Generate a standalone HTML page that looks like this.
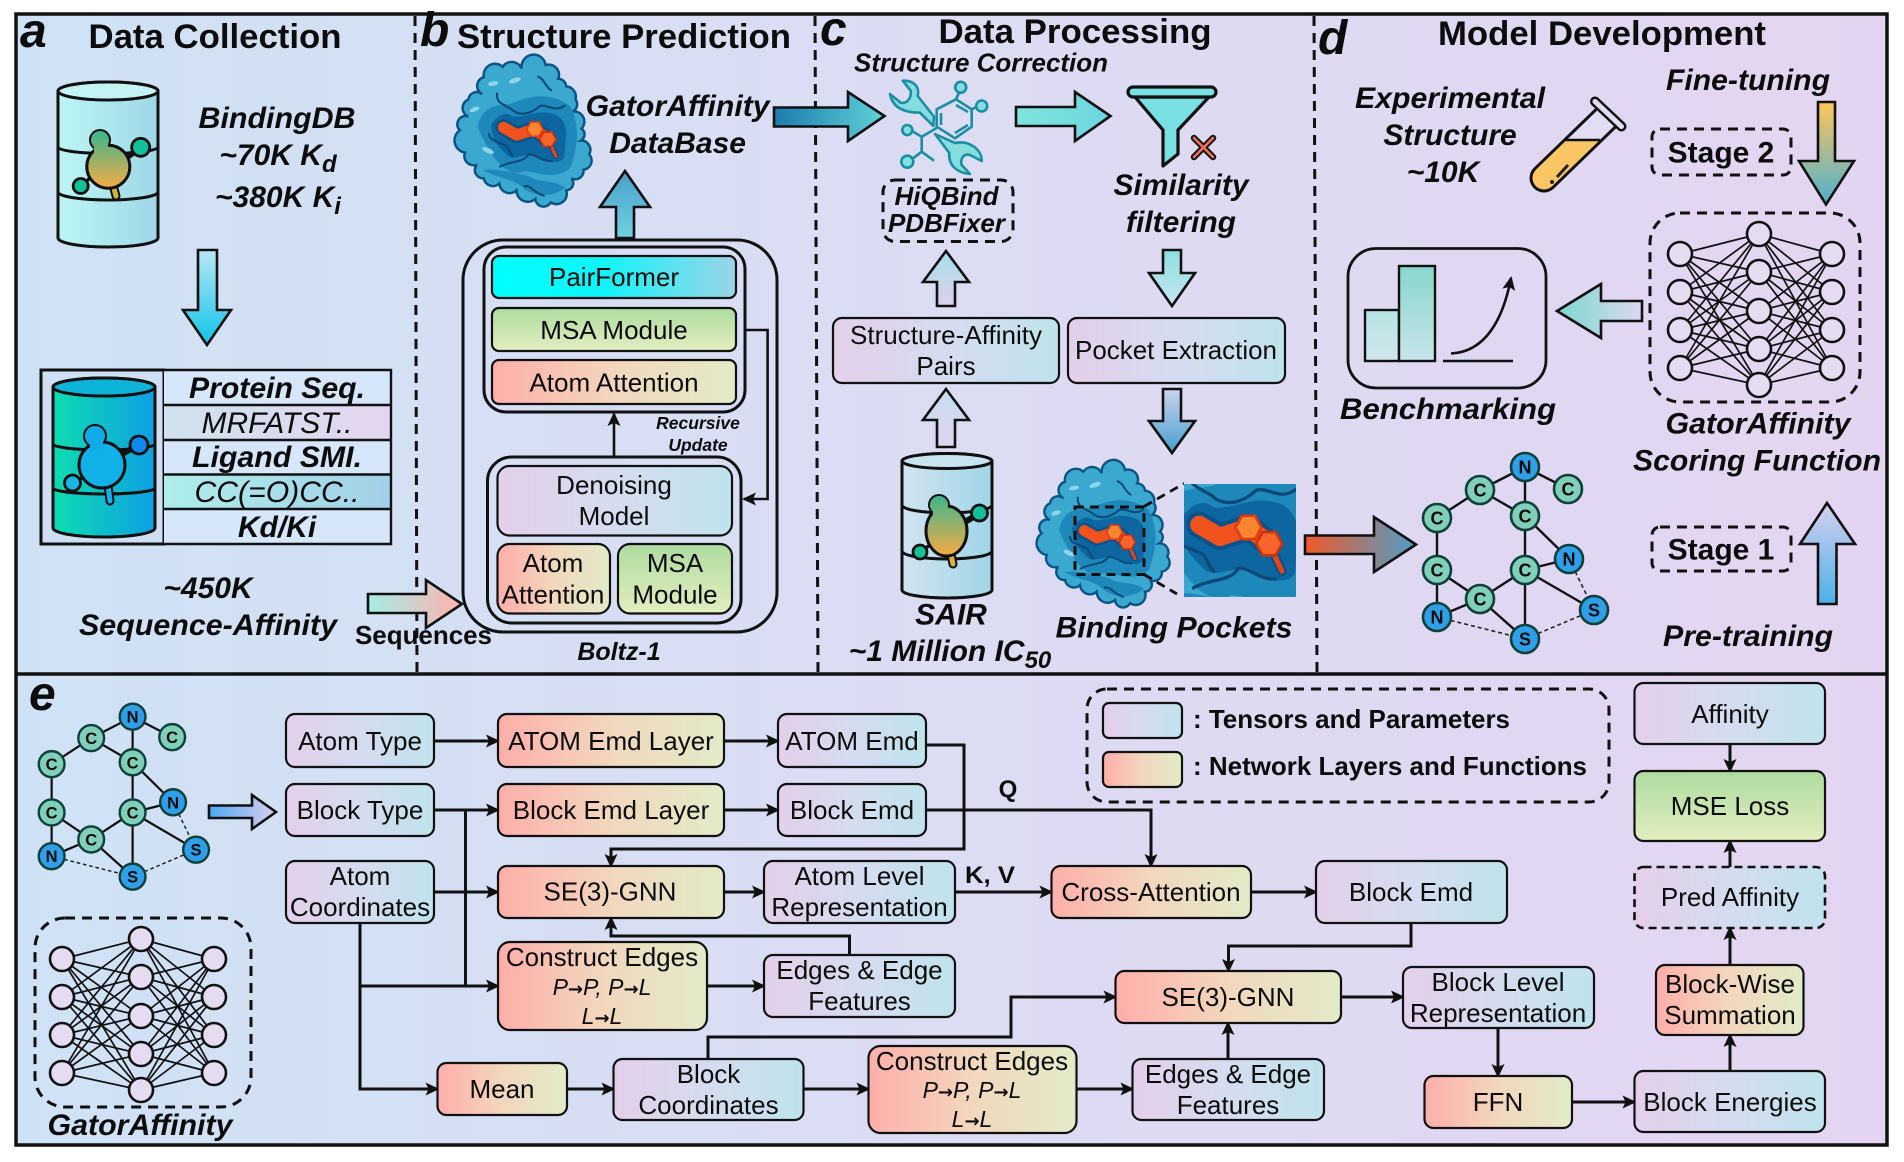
<!DOCTYPE html>
<html><head><meta charset="utf-8"><title>GatorAffinity</title>
<style>
html,body{margin:0;padding:0;background:#fff;width:1904px;height:1162px;overflow:hidden}
svg{display:block}
text{font-family:"Liberation Sans",sans-serif;fill:#0c0c0c;text-anchor:middle}
.t{font-weight:700;font-size:34.5px}
.l{font-weight:700;font-style:italic;font-size:48px;text-anchor:start}
.bi{font-weight:700;font-style:italic;font-size:30px}
.bi26{font-weight:700;font-style:italic;font-size:26px}
.r{font-size:26px}
.i{font-style:italic;font-size:23px}
.i tspan{font-family:"DejaVu Sans",sans-serif;font-style:normal;font-weight:700;font-size:18px}
.ri{font-style:italic;font-size:30px}
.b{font-weight:700;font-size:26px}
.box{stroke:#111;stroke-width:2.2}
.thick{fill:none;stroke:#111;stroke-width:3}
.arr{stroke:#111;stroke-width:2.6;stroke-linejoin:miter}
.dash{fill:none;stroke:#111;stroke-width:3;stroke-dasharray:10 7}
.cn{stroke:#111;stroke-width:2.6}
.gt{font-weight:700;font-size:18px}
.nn line{stroke:#111;stroke-width:1.7}
.nn ellipse{fill:#e5dcf2;stroke:#111;stroke-width:2.6}
.tl{fill:none;stroke:#1a8ea3;stroke-width:2.6}
.tf{fill:#85dde0;stroke:#1a8ea3;stroke-width:2.6;stroke-linejoin:round}
</style></head><body>
<svg xmlns="http://www.w3.org/2000/svg" width="1904" height="1162" viewBox="0 0 1904 1162">
<defs>
<linearGradient id="bg"><stop offset="0" stop-color="#cfe2f5"/><stop offset=".5" stop-color="#dcdcf3"/><stop offset="1" stop-color="#e3d5f1"/></linearGradient>
<linearGradient id="T"><stop offset="0" stop-color="#e4cfea"/><stop offset=".5" stop-color="#d5dcef"/><stop offset="1" stop-color="#bfe3ec"/></linearGradient>
<linearGradient id="N"><stop offset="0" stop-color="#ffaeaa"/><stop offset=".5" stop-color="#f2d7bd"/><stop offset="1" stop-color="#e2ebc8"/></linearGradient>
<linearGradient id="G" x2="0" y2="1"><stop offset="0" stop-color="#aedba0"/><stop offset="1" stop-color="#e2eec0"/></linearGradient>
<linearGradient id="PF"><stop offset="0" stop-color="#00ffff"/><stop offset=".45" stop-color="#10f4fa"/><stop offset="1" stop-color="#9cd4e6"/></linearGradient>
<linearGradient id="cy1"><stop offset="0" stop-color="#bdf6f6"/><stop offset="1" stop-color="#9ed6e6"/></linearGradient>
<linearGradient id="cy2"><stop offset="0" stop-color="#0edcb0"/><stop offset="1" stop-color="#0e9fe4"/></linearGradient>
<linearGradient id="cy3"><stop offset="0" stop-color="#d2e4f0"/><stop offset="1" stop-color="#9fd5e8"/></linearGradient>
<linearGradient id="mol1" gradientUnits="userSpaceOnUse" x1="0" y1="132" x2="0" y2="188"><stop offset="0" stop-color="#3eb58e"/><stop offset="1" stop-color="#f6ab44"/></linearGradient>
<linearGradient id="mol3" gradientUnits="userSpaceOnUse" x1="0" y1="496" x2="0" y2="556"><stop offset="0" stop-color="#3eb58e"/><stop offset="1" stop-color="#f6ab44"/></linearGradient>
<linearGradient id="rowM"><stop offset="0" stop-color="#cfe2ee"/><stop offset="1" stop-color="#e4d6f0"/></linearGradient>
<linearGradient id="rowC"><stop offset="0" stop-color="#aeeeea"/><stop offset="1" stop-color="#a2cfe8"/></linearGradient>
<linearGradient id="a1" x2="0" y2="1"><stop offset="0" stop-color="#b9e6f5"/><stop offset="1" stop-color="#10c4e8"/></linearGradient>
<linearGradient id="a2"><stop offset="0" stop-color="#a6ece6"/><stop offset="1" stop-color="#ffb2ae"/></linearGradient>
<linearGradient id="a3" x2="0" y2="1"><stop offset="0" stop-color="#4a9ec8"/><stop offset="1" stop-color="#6fd2e0"/></linearGradient>
<linearGradient id="a4"><stop offset="0" stop-color="#1c7cae"/><stop offset="1" stop-color="#60d2d8"/></linearGradient>
<linearGradient id="a5"><stop offset="0" stop-color="#80e4dc"/><stop offset="1" stop-color="#6cd6e0"/></linearGradient>
<linearGradient id="a6" x2="0" y2="1"><stop offset="0" stop-color="#a2dfe8"/><stop offset="1" stop-color="#e0d0ec"/></linearGradient>
<linearGradient id="a7" x2="0" y2="1"><stop offset="0" stop-color="#c4dfee"/><stop offset="1" stop-color="#e0d4ef"/></linearGradient>
<linearGradient id="a8" x2="0" y2="1"><stop offset="0" stop-color="#8ce0e0"/><stop offset="1" stop-color="#c8e4f0"/></linearGradient>
<linearGradient id="a9" x2="0" y2="1"><stop offset="0" stop-color="#ccd4ec"/><stop offset="1" stop-color="#469ed0"/></linearGradient>
<linearGradient id="a10"><stop offset="0" stop-color="#f2582a"/><stop offset="1" stop-color="#4c9ec8"/></linearGradient>
<linearGradient id="a11" x2="0" y2="1"><stop offset="0" stop-color="#ffc65c"/><stop offset="1" stop-color="#4cb0d0"/></linearGradient>
<linearGradient id="a12" x2="0" y2="1"><stop offset="0" stop-color="#d6d0ee"/><stop offset="1" stop-color="#4cb0e8"/></linearGradient>
<linearGradient id="a13"><stop offset="0" stop-color="#7cd8d0"/><stop offset="1" stop-color="#dcd8f0"/></linearGradient>
<linearGradient id="a14"><stop offset="0" stop-color="#48a8f0"/><stop offset="1" stop-color="#dcd0ef"/></linearGradient>
<linearGradient id="bar" x2="0" y2="1"><stop offset="0" stop-color="#88d6cc"/><stop offset="1" stop-color="#c8e4ea"/></linearGradient>
<linearGradient id="bar1" x2="0" y2="1"><stop offset="0" stop-color="#b8e4e2"/><stop offset="1" stop-color="#cfe6ec"/></linearGradient>
<marker id="h" markerUnits="userSpaceOnUse" markerWidth="16" markerHeight="14" refX="12" refY="7" orient="auto"><path d="M0,0.5 L14,7 L0,13.5 L3,7Z" fill="#111"/></marker>
<clipPath id="cl"><rect x="1184" y="484" width="112" height="113"/></clipPath>
<clipPath id="tubeclip"><rect x="1500" y="140" width="150" height="80"/></clipPath>
<g id="prot">
<path d="M-20.7,-63.3 A10.5,10.5 0 0 1 -2.3,-61.7 A11,11 0 0 1 21,-65 A10,10 0 0 1 33.3,-51.7 A8,8 0 0 1 41,-44.3 A10,10 0 0 1 50,-31.7 A8,8 0 0 1 47.7,-20 A10,10 0 0 1 56,-3.3 A7,7 0 0 1 55.3,8.3 A9,9 0 0 1 63.3,21.7 A9,9 0 0 1 57.7,36.7 A8,8 0 0 1 46,45 A7,7 0 0 1 41,56.7 A10,10 0 0 1 26,68.3 A8,8 0 0 1 11,65 A11,11 0 0 1 -7.3,56.7 A10,10 0 0 1 -24,50 A9,9 0 0 1 -39,45 A8,8 0 0 1 -45.7,31.7 A9,9 0 0 1 -57.3,20 A12,12 0 0 1 -62.3,-1.7 A8,8 0 0 1 -54,-15 A9,9 0 0 1 -54,-31.7 A8,8 0 0 1 -40.7,-36.7 A9,9 0 0 1 -39,-53.3 A11,11 0 0 1 -20.7,-63.3Z" fill="#3aa8cf" stroke="#0b5485" stroke-width="2.4"/>
<path d="M-45,-5 C-40,-28 -25,-25 -11,-28 C5,-35 25,-40 45,-25 C55,-5 52,15 45,35 C30,48 10,38 0,38 C-15,45 -30,30 -45,-5Z" fill="#1e88ba"/>
<path d="M-40,37 C-25,45 -10,45 0,55 C10,62 25,65 40,54 C30,46 15,50 5,43 C-10,40 -25,35 -40,37Z" fill="#1e88ba"/>
<path d="M-32,-7 C-24,-18 -17,-20 -11,-15 C-1,-13 13,-22 26,-18 C36,-17 41,-8 41,2 L39,25 C33,33 19,28 13,23 C0,20 -9,28 -16,23 C-21,17 -31,12 -32,-7Z" fill="#0d66a0"/>
<path d="M-26,-38 C-28,-28 -18,-26 -12,-22 C-6,-16 5,-16 15,-25 C22,-28 30,-18 40,-26 M13,-54 C20,-52 20,-44 27,-40 M-34,1 C-34,9 -26,9 -18,13 C-14,16 -14,22 -10,24 M-24,34 C-14,28 0,30 4,22 C10,20 18,30 28,28 M0,53 C6,50 10,60 20,62" fill="none" stroke="#0a4a78" stroke-width="2"/>
<g fill="#8fd4e8"><ellipse cx="-9" cy="-50" rx="6" ry="2.4" transform="rotate(-18 -9 -50)"/><ellipse cx="-35" cy="18" rx="6" ry="2.4" transform="rotate(25 -35 18)"/><ellipse cx="-48" cy="-22" rx="5" ry="2.2" transform="rotate(-20 -48 -22)"/><ellipse cx="-30" cy="-47" rx="5" ry="2.2" transform="rotate(-10 -30 -47)"/></g>
<polyline points="-19.7,-4.4 -7,2.9 10.5,-2.8 23.2,7" fill="none" stroke="#0b5289" stroke-width="16" stroke-linejoin="round" stroke-linecap="round"/>
<polyline points="23.2,7 31,23.5" fill="none" stroke="#0b5289" stroke-width="6" stroke-linecap="round"/>
<polyline points="-19.7,-4.4 -7,2.9 10.5,-2.8 23.2,7" fill="none" stroke="#f2521d" stroke-width="11" stroke-linejoin="round" stroke-linecap="round"/>
<polyline points="23.2,7 31,23.5" fill="none" stroke="#ea4418" stroke-width="3" stroke-linecap="round"/>
<polygon points="18.5,-2.8 14.5,-9.8 6.5,-9.8 2.5,-2.8 6.5,4.2 14.5,4.2" fill="#f98530" stroke="#e43a12" stroke-width="1.6"/>
<polygon points="31.2,7 27.2,14 19.2,14 15.2,7 19.2,0 27.2,0" fill="#f9642a" stroke="#c83410" stroke-width="1.6"/>
</g>
<g id="nn" class="nn">
<line x1="0" y1="20" x2="79" y2="0"/><line x1="0" y1="20" x2="79" y2="38"/><line x1="0" y1="20" x2="79" y2="77"/><line x1="0" y1="20" x2="79" y2="115"/><line x1="0" y1="20" x2="79" y2="151"/>
<line x1="0" y1="58" x2="79" y2="0"/><line x1="0" y1="58" x2="79" y2="38"/><line x1="0" y1="58" x2="79" y2="77"/><line x1="0" y1="58" x2="79" y2="115"/><line x1="0" y1="58" x2="79" y2="151"/>
<line x1="0" y1="96" x2="79" y2="0"/><line x1="0" y1="96" x2="79" y2="38"/><line x1="0" y1="96" x2="79" y2="77"/><line x1="0" y1="96" x2="79" y2="115"/><line x1="0" y1="96" x2="79" y2="151"/>
<line x1="0" y1="134" x2="79" y2="0"/><line x1="0" y1="134" x2="79" y2="38"/><line x1="0" y1="134" x2="79" y2="77"/><line x1="0" y1="134" x2="79" y2="115"/><line x1="0" y1="134" x2="79" y2="151"/>
<line x1="152" y1="20" x2="79" y2="0"/><line x1="152" y1="20" x2="79" y2="38"/><line x1="152" y1="20" x2="79" y2="77"/><line x1="152" y1="20" x2="79" y2="115"/><line x1="152" y1="20" x2="79" y2="151"/>
<line x1="152" y1="58" x2="79" y2="0"/><line x1="152" y1="58" x2="79" y2="38"/><line x1="152" y1="58" x2="79" y2="77"/><line x1="152" y1="58" x2="79" y2="115"/><line x1="152" y1="58" x2="79" y2="151"/>
<line x1="152" y1="96" x2="79" y2="0"/><line x1="152" y1="96" x2="79" y2="38"/><line x1="152" y1="96" x2="79" y2="77"/><line x1="152" y1="96" x2="79" y2="115"/><line x1="152" y1="96" x2="79" y2="151"/>
<line x1="152" y1="134" x2="79" y2="0"/><line x1="152" y1="134" x2="79" y2="38"/><line x1="152" y1="134" x2="79" y2="77"/><line x1="152" y1="134" x2="79" y2="115"/><line x1="152" y1="134" x2="79" y2="151"/>
<ellipse cx="0" cy="20" rx="12" ry="12"/><ellipse cx="0" cy="58" rx="12" ry="12"/><ellipse cx="0" cy="96" rx="12" ry="12"/><ellipse cx="0" cy="134" rx="12" ry="12"/>
<ellipse cx="79" cy="0" rx="12" ry="12"/><ellipse cx="79" cy="38" rx="12" ry="12"/><ellipse cx="79" cy="77" rx="12" ry="12"/><ellipse cx="79" cy="115" rx="12" ry="12"/><ellipse cx="79" cy="151" rx="12" ry="12"/>
<ellipse cx="152" cy="20" rx="12" ry="12"/><ellipse cx="152" cy="58" rx="12" ry="12"/><ellipse cx="152" cy="96" rx="12" ry="12"/><ellipse cx="152" cy="134" rx="12" ry="12"/>
</g>
<g id="gedges">
<g stroke="#111" stroke-width="2.4">
<line x1="0" y1="0" x2="-45" y2="23"/><line x1="0" y1="0" x2="43" y2="22"/><line x1="0" y1="0" x2="0" y2="49"/>
<line x1="-45" y1="23" x2="0" y2="49"/><line x1="-45" y1="23" x2="-88" y2="51"/><line x1="-88" y1="51" x2="-88" y2="103"/>
<line x1="0" y1="49" x2="0" y2="103"/><line x1="0" y1="49" x2="44" y2="92"/><line x1="0" y1="103" x2="44" y2="92"/>
<line x1="0" y1="103" x2="-45" y2="132"/><line x1="-88" y1="103" x2="-88" y2="150"/><line x1="-88" y1="150" x2="-45" y2="132"/><line x1="-88" y1="103" x2="-45" y2="132"/>
<line x1="0" y1="103" x2="0" y2="172"/><line x1="-45" y1="132" x2="0" y2="172"/><line x1="0" y1="103" x2="69" y2="143"/>
</g>
<g stroke="#222" stroke-width="1.6" stroke-dasharray="4 3">
<line x1="44" y1="92" x2="69" y2="143"/><line x1="-88" y1="150" x2="0" y2="172"/><line x1="0" y1="172" x2="69" y2="143"/>
</g>
</g>
</defs>

<rect x="16" y="14" width="1871" height="1131" fill="url(#bg)" stroke="#111" stroke-width="3.5"/>
<line x1="16" y1="674" x2="1887" y2="674" stroke="#111" stroke-width="3.5"/>
<path class="dash" d="M415,16 L417,672 M815,16 L818,672 M1314,16 L1317,672" stroke-width="2.6"/>

<!-- headers -->
<text class="l" x="20" y="47">a</text>
<text class="t" x="215" y="48" textLength="253" lengthAdjust="spacingAndGlyphs">Data Collection</text>
<text class="l" x="420" y="46">b</text>
<text class="t" x="624" y="48" textLength="334" lengthAdjust="spacingAndGlyphs">Structure Prediction</text>
<text class="l" x="820" y="45">c</text>
<text class="t" x="1075" y="43" textLength="273" lengthAdjust="spacingAndGlyphs">Data Processing</text>
<text class="l" x="1318" y="54">d</text>
<text class="t" x="1602" y="45" textLength="328" lengthAdjust="spacingAndGlyphs">Model Development</text>
<text class="l" x="29" y="710">e</text>

<!-- panel a -->
<path d="M58,91 L58,238 A50,9 0 0 0 158,238 L158,91 A50,9 0 0 0 58,91Z" fill="url(#cy1)" stroke="#111" stroke-width="3"/>
<ellipse cx="108" cy="91" rx="50" ry="9" fill="#c4f3f4" stroke="#111" stroke-width="3"/>
<path d="M58,147 A50,6.5 0 0 0 158,147 M58,192 A50,8 0 0 0 158,192" fill="none" stroke="#111" stroke-width="3"/>
<path d="M122,161 L141,147" stroke="#111" stroke-width="6"/>
<path d="M90,178 L81,186" stroke="#111" stroke-width="3.5"/>
<path d="M113,185 L116,196" stroke="#111" stroke-width="9" stroke-linecap="round"/>
<path d="M113,185 L116,196" stroke="#d6b040" stroke-width="5" stroke-linecap="round"/>
<circle cx="100" cy="140" r="9.5" fill="#3eb58e" stroke="#111" stroke-width="3"/>
<circle cx="108.3" cy="166.7" r="21.5" fill="url(#mol1)" stroke="#111" stroke-width="3"/>
<circle cx="100" cy="140" r="9" fill="url(#mol1)"/>
<rect x="94" y="142" width="14" height="12" fill="url(#mol1)"/>
<circle cx="140.7" cy="147.3" r="9" fill="#12c09a" stroke="#111" stroke-width="2.8"/>
<circle cx="80.7" cy="186" r="7.5" fill="#12c09a" stroke="#111" stroke-width="2.8"/>

<text class="bi" x="277" y="128" textLength="157" lengthAdjust="spacingAndGlyphs">BindingDB</text>
<text class="bi" x="278" y="165">~70K K<tspan dy="7" font-size="24">d</tspan></text>
<text class="bi" x="278" y="207">~380K K<tspan dy="7" font-size="24">i</tspan></text>

<polygon class="arr" points="198,250 217,250 217,310 231,310 207,345 183,310 198,310" fill="url(#a1)"/>

<rect x="41" y="370" width="123" height="174" fill="#cfe0f4" stroke="#111" stroke-width="3"/>
<rect x="164" y="370" width="227" height="35" fill="#d6e6fb"/>
<rect x="164" y="405" width="227" height="35" fill="url(#rowM)"/>
<rect x="164" y="440" width="227" height="34.5" fill="#d6e6fb"/>
<rect x="164" y="474.5" width="227" height="34.5" fill="url(#rowC)"/>
<rect x="164" y="509" width="227" height="35" fill="#d6e6fb"/>
<path d="M164,370 H391 V544 H164 M164,405 H391 M164,440 H391 M164,474.5 H391 M164,509 H391" fill="none" stroke="#111" stroke-width="2.4"/>
<text class="bi" x="277" y="398" textLength="176" lengthAdjust="spacingAndGlyphs">Protein Seq.</text>
<text class="ri" x="277" y="433" textLength="151" lengthAdjust="spacingAndGlyphs">MRFATST..</text>
<text class="bi" x="277" y="467" textLength="170" lengthAdjust="spacingAndGlyphs">Ligand SMI.</text>
<text class="ri" x="277" y="502" textLength="165" lengthAdjust="spacingAndGlyphs">CC(=O)CC..</text>
<text class="bi" x="277" y="537">Kd/Ki</text>

<path d="M53,387 L53,528 A51,9 0 0 0 155,528 L155,387 A51,9 0 0 0 53,387Z" fill="url(#cy2)" stroke="#111" stroke-width="3"/>
<ellipse cx="104" cy="387" rx="51" ry="9" fill="#0bb4d8" stroke="#111" stroke-width="3"/>
<path d="M53,444 A51,6 0 0 0 155,444 M53,488 A51,6 0 0 0 155,488" fill="none" stroke="#111" stroke-width="3"/>
<path d="M118,456 L139,445" stroke="#111" stroke-width="6"/>
<path d="M85,476 L73,483" stroke="#111" stroke-width="3.5"/>
<path d="M108,485 L110,501" stroke="#111" stroke-width="9" stroke-linecap="round"/>
<path d="M108,485 L110,501" stroke="#14b0e8" stroke-width="5" stroke-linecap="round"/>
<circle cx="95" cy="436" r="10.5" fill="#10a8ea" stroke="#111" stroke-width="3"/>
<circle cx="102" cy="465" r="23" fill="#10b0e8" stroke="#111" stroke-width="3"/>
<circle cx="95" cy="436" r="10" fill="#10acea"/>
<rect x="90" y="438" width="13" height="12" fill="#10acea"/>
<circle cx="139" cy="445" r="9" fill="#0f88ee" stroke="#111" stroke-width="2.8"/>
<circle cx="72.5" cy="483" r="8" fill="#18b4e4" stroke="#111" stroke-width="2.8"/>

<text class="bi" x="208" y="598">~450K</text>
<text class="bi" x="208" y="635" textLength="258" lengthAdjust="spacingAndGlyphs">Sequence-Affinity</text>
<polygon class="arr" points="368,594 426,594 426,580 462,604 426,628 426,613 368,613" fill="url(#a2)"/>
<text x="423.5" y="644" font-size="26" font-weight="700" textLength="137" lengthAdjust="spacingAndGlyphs">Sequences</text>

<!-- panel b -->
<use href="#prot" transform="translate(524,132) scale(1.03,1.03)"/>
<text class="bi" x="677.6" y="116" textLength="184" lengthAdjust="spacingAndGlyphs">GatorAffinity</text>
<text class="bi" x="677.6" y="153">DataBase</text>
<polygon class="arr" points="616,238 616,207 600,207 625,171 650,207 634,207 634,238" fill="url(#a3)"/>
<rect x="463" y="240" width="314" height="392" rx="40" fill="none" stroke="#111" stroke-width="3"/>
<rect x="484" y="247" width="261" height="165" rx="22" fill="none" stroke="#111" stroke-width="3"/>
<rect class="box" x="492" y="256" width="244" height="42" rx="7" fill="url(#PF)"/>
<rect class="box" x="492" y="308" width="244" height="43" rx="7" fill="url(#G)"/>
<rect class="box" x="492" y="360" width="244" height="44" rx="7" fill="url(#N)"/>
<text class="r" x="614" y="286">PairFormer</text>
<text class="r" x="614" y="339">MSA Module</text>
<text class="r" x="614" y="391.5">Atom Attention</text>
<path d="M745,330 H767.6 V499 H744" fill="none" class="cn" marker-end="url(#h)"/>
<path d="M614,456 V414" fill="none" class="cn" marker-end="url(#h)"/>
<text x="698" y="429" font-size="17.5" font-weight="700" font-style="italic">Recursive</text>
<text x="698" y="451" font-size="17.5" font-weight="700" font-style="italic">Update</text>
<rect x="487.5" y="457" width="253.5" height="166" rx="24" fill="none" stroke="#111" stroke-width="3"/>
<rect class="box" x="497.5" y="466" width="234.5" height="69.5" rx="12" fill="url(#T)"/>
<text class="r" x="614" y="494">Denoising</text><text class="r" x="614" y="525">Model</text>
<rect class="box" x="497.5" y="544" width="112.5" height="69.5" rx="12" fill="url(#N)"/>
<text class="r" x="553" y="572">Atom</text><text class="r" x="553" y="603.5">Attention</text>
<rect class="box" x="618" y="544" width="114" height="69.5" rx="12" fill="url(#G)"/>
<text class="r" x="675" y="572">MSA</text><text class="r" x="675" y="603.5">Module</text>
<text x="619" y="660" font-size="25" font-weight="700" font-style="italic">Boltz-1</text>

<!-- panel c -->
<text class="bi26" x="981" y="71.5" textLength="254" lengthAdjust="spacingAndGlyphs">Structure Correction</text>
<polygon class="arr" points="774,107.5 848,107.5 848,92 884.5,116 848,141 848,126.5 774,126.5" fill="url(#a4)"/>
<!-- tools icon -->
<path class="tf" d="M902.7,80.7 C912.7,80 920,86 917.7,96 L934,116.7 L933.3,126 L920,112.7 C906.7,112.7 892.7,109.3 890,94 L900.7,102.7 C906.7,104 911.7,98.3 910.7,90.7Z"/>
<path class="tf" d="M935,134 L955,143 C970,140 982,150 981.7,161 L970,155 C963,153 960,160 961.7,165 L970,174 C957,173 948,165 949.3,153Z"/>
<polygon class="tl" points="936.7,109.3 956,99.3 971.7,109.3 971.7,126.7 955,138.3 936.7,126.7" style="fill:#dcdcf3"/>
<path class="tl" d="M956,105 L968,112 M968,125 L955,133 M941,113 V125 M956,99 L959.5,92 M971.7,109.3 L977,106.7 M936.7,128 L921.7,136.7 L912,131 M921.7,136.7 V151.7 L911.7,159.3 M921.7,151.7 L934,160.7"/>
<circle class="tf" cx="960.7" cy="87.3" r="5.5"/><circle class="tf" cx="981.7" cy="106" r="5.5"/><circle class="tf" cx="907.3" cy="130" r="5"/><circle class="tf" cx="907.3" cy="161.7" r="6"/>
<polygon class="arr" points="1016,107 1075,107 1075,92 1110.5,116 1075,141 1075,126 1016,126" fill="url(#a5)"/>
<!-- funnel -->
<path d="M1135,97 L1209,97 L1178,130 L1178,154 L1163,166 L1163,130Z" fill="#78dfe3" stroke="#111" stroke-width="3.2" stroke-linejoin="round"/>
<rect x="1128" y="87" width="88" height="10" rx="5" fill="#78dfe3" stroke="#111" stroke-width="3.2"/>
<path d="M1194,138 L1213,157 M1213,138 L1194,157" stroke="#111" stroke-width="6.5" stroke-linecap="round"/>
<path d="M1194,138 L1213,157 M1213,138 L1194,157" stroke="#f0705a" stroke-width="2.6" stroke-linecap="round"/>
<text class="bi" x="1181" y="195" textLength="135" lengthAdjust="spacingAndGlyphs">Similarity</text>
<text class="bi" x="1181" y="232" textLength="110" lengthAdjust="spacingAndGlyphs">filtering</text>
<rect class="dash" x="883" y="180" width="130" height="61.5" rx="12" stroke-width="2.6"/>
<text class="bi26" x="946.5" y="205">HiQBind</text><text class="bi26" x="946.5" y="232">PDBFixer</text>
<polygon class="arr" points="937,306 937,282 923,282 946,251 969,282 955,282 955,306" fill="url(#a6)"/>
<rect class="box" x="833" y="318" width="226" height="65" rx="9" fill="url(#T)"/>
<text class="r" x="946" y="344" textLength="192" lengthAdjust="spacingAndGlyphs">Structure-Affinity</text><text class="r" x="946" y="375">Pairs</text>
<rect class="box" x="1068" y="318" width="217" height="65" rx="9" fill="url(#T)"/>
<text class="r" x="1176" y="359" textLength="202" lengthAdjust="spacingAndGlyphs">Pocket Extraction</text>
<polygon class="arr" points="1163,250 1181,250 1181,273 1195,273 1172,306 1149,273 1163,273" fill="url(#a8)"/>
<polygon class="arr" points="937,447 937,420 923,420 946,389 969,420 955,420 955,447" fill="url(#a7)"/>
<polygon class="arr" points="1163,389 1181,389 1181,421 1195,421 1172,453 1149,421 1163,421" fill="url(#a9)"/>
<!-- SAIR -->
<path d="M902,461 L902,590 A45,8 0 0 0 992,590 L992,461 A45,7.5 0 0 0 902,461Z" fill="url(#cy3)" stroke="#111" stroke-width="3"/>
<ellipse cx="947" cy="461" rx="45" ry="7.5" fill="#c8e4f0" stroke="#111" stroke-width="3"/>
<path d="M902,505 A45,8 0 0 0 992,505 M902,551 A45,8 0 0 0 992,551" fill="none" stroke="#111" stroke-width="3"/>
<path d="M960,525 L980,513" stroke="#111" stroke-width="6"/>
<path d="M950,550 L953,564" stroke="#111" stroke-width="9" stroke-linecap="round"/>
<path d="M950,550 L953,564" stroke="#d8b040" stroke-width="5" stroke-linecap="round"/>
<path d="M930,545 L920,552" stroke="#111" stroke-width="3.5"/>
<circle cx="939" cy="505" r="9.5" fill="#3eb58e" stroke="#111" stroke-width="3"/>
<ellipse cx="946.5" cy="531" rx="20.5" ry="25" fill="url(#mol3)" stroke="#111" stroke-width="3"/>
<circle cx="939" cy="505" r="9" fill="url(#mol3)"/>
<rect x="933" y="507" width="13" height="9" fill="url(#mol3)"/>
<circle cx="979.5" cy="513" r="8" fill="#12c09a" stroke="#111" stroke-width="2.8"/>
<circle cx="920" cy="552" r="7" fill="#12c09a" stroke="#111" stroke-width="2.8"/>
<text class="bi" x="951" y="624.5">SAIR</text>
<text class="bi" x="950" y="661">~1 Million IC<tspan dy="7" font-size="24">50</tspan></text>
<!-- binding pocket -->
<use href="#prot" transform="translate(1104,535)"/>
<path d="M1075,507 H1144 V574.5 H1075Z" fill="none" stroke="#111" stroke-width="3" stroke-dasharray="9 6"/>
<path d="M1144,506.5 L1184,483.5 M1144,574.5 L1177,594" fill="none" stroke="#111" stroke-width="2.8" stroke-dasharray="9 6"/>
<g clip-path="url(#cl)">
<rect x="1184" y="484" width="112" height="113" fill="#3aa8cf"/>
<use href="#prot" transform="translate(1231.3,532.1) scale(1.63,1.66)"/>
</g>
<text class="bi" x="1174" y="637.5" textLength="237" lengthAdjust="spacingAndGlyphs">Binding Pockets</text>
<polygon class="arr" points="1305,535.5 1374,535.5 1374,517 1416,544.5 1374,572 1374,554 1305,554" fill="url(#a10)"/>

<!-- panel d -->
<text class="bi" x="1748" y="90" textLength="164" lengthAdjust="spacingAndGlyphs">Fine-tuning</text>
<text class="bi" x="1450" y="108" textLength="190" lengthAdjust="spacingAndGlyphs">Experimental</text>
<text class="bi" x="1450" y="145">Structure</text>
<text class="bi" x="1443" y="182">~10K</text>
<!-- tube -->
<line x1="1608" y1="116" x2="1544" y2="178" stroke="#111" stroke-width="29"/>
<circle cx="1544" cy="178" r="14.5" fill="#111"/>
<line x1="1608" y1="116" x2="1544" y2="178" stroke="#e2ddf3" stroke-width="23"/>
<g clip-path="url(#tubeclip)">
<line x1="1608" y1="116" x2="1544" y2="178" stroke="#fcc665" stroke-width="23"/>
<circle cx="1544" cy="178" r="11.5" fill="#fcc665"/>
</g>
<line x1="1565" y1="140" x2="1600" y2="140" stroke="#111" stroke-width="2.6"/>
<line x1="1595" y1="101.5" x2="1621.5" y2="126.5" stroke="#111" stroke-width="10" stroke-linecap="round"/>
<line x1="1595" y1="101.5" x2="1621.5" y2="126.5" stroke="#e2ddf3" stroke-width="5" stroke-linecap="round"/>
<line x1="1568" y1="165" x2="1557" y2="177" stroke="#222" stroke-width="3"/>
<circle cx="1552" cy="182" r="2" fill="#222"/>
<rect class="dash" x="1652" y="129" width="139" height="46" rx="8" stroke-width="2.6"/>
<text x="1721" y="162.5" font-size="30" font-weight="700">Stage 2</text>
<polygon class="arr" points="1818,102 1835,102 1835,161 1854,161 1826,204.5 1799,161 1818,161" fill="url(#a11)"/>
<rect class="dash" x="1650" y="213" width="210" height="189" rx="30"/>
<use href="#nn" transform="translate(1680,234)"/>
<text class="bi" x="1758" y="433.5" textLength="185" lengthAdjust="spacingAndGlyphs">GatorAffinity</text>
<text class="bi" x="1757" y="470.5" textLength="248" lengthAdjust="spacingAndGlyphs">Scoring Function</text>
<rect x="1348" y="248.5" width="198" height="139.5" rx="28" fill="none" stroke="#111" stroke-width="2.8"/>
<rect x="1365" y="310" width="34" height="51" fill="url(#bar1)" stroke="#111" stroke-width="2.4"/>
<rect x="1399" y="266" width="36" height="95" fill="url(#bar)" stroke="#111" stroke-width="2.4"/>
<line x1="1443" y1="361" x2="1513" y2="361" stroke="#111" stroke-width="2.6"/>
<path d="M1451,353.5 C1485,352 1503,320 1511,278" fill="none" class="cn" marker-end="url(#h)"/>
<polygon class="arr" points="1642,301 1601,301 1601,284 1557,311 1601,338 1601,321 1642,321" fill="url(#a13)"/>
<text class="bi" x="1448" y="419" textLength="216" lengthAdjust="spacingAndGlyphs">Benchmarking</text>
<!-- graph d -->
<g transform="translate(1525,467)">
<use href="#gedges"/>
<g stroke="#10403a" stroke-width="2.6">
<ellipse cx="0" cy="0" rx="14" ry="14" fill="#2e9fe8"/><ellipse cx="-45" cy="23" rx="14" ry="14" fill="#80cfb8"/><ellipse cx="43" cy="22" rx="14" ry="14" fill="#80cfb8"/><ellipse cx="0" cy="49" rx="14" ry="14" fill="#80cfb8"/><ellipse cx="-88" cy="51" rx="14" ry="14" fill="#80cfb8"/><ellipse cx="-88" cy="103" rx="14" ry="14" fill="#80cfb8"/><ellipse cx="0" cy="103" rx="14" ry="14" fill="#80cfb8"/><ellipse cx="44" cy="92" rx="14" ry="14" fill="#2e9fe8"/><ellipse cx="-45" cy="132" rx="14" ry="14" fill="#80cfb8"/><ellipse cx="-88" cy="150" rx="14" ry="14" fill="#2e9fe8"/><ellipse cx="0" cy="172" rx="14" ry="14" fill="#2e9fe8"/><ellipse cx="69" cy="143" rx="14" ry="14" fill="#2e9fe8"/>
</g>
<text class="gt" x="0" y="6.5">N</text><text class="gt" x="-45" y="29.5">C</text><text class="gt" x="43" y="28.5">C</text><text class="gt" x="0" y="55.5">C</text><text class="gt" x="-88" y="57.5">C</text><text class="gt" x="-88" y="109.5">C</text><text class="gt" x="0" y="109.5">C</text><text class="gt" x="44" y="98.5">N</text><text class="gt" x="-45" y="138.5">C</text><text class="gt" x="-88" y="156.5">N</text><text class="gt" x="0" y="178.5">S</text><text class="gt" x="69" y="149.5">S</text>
</g>
<rect class="dash" x="1652" y="527" width="139" height="44" rx="8" stroke-width="2.6"/>
<text x="1721" y="559.5" font-size="30" font-weight="700">Stage 1</text>
<polygon class="arr" points="1818,604 1818,544 1800,544 1827,503 1855,544 1836.5,544 1836.5,604" fill="url(#a12)"/>
<text class="bi" x="1748" y="646" textLength="170" lengthAdjust="spacingAndGlyphs">Pre-training</text>

<!-- panel e left -->
<g transform="translate(132.6,716.7) scale(.92,.93)">
<use href="#gedges"/>
<g stroke="#10403a" stroke-width="2.6">
<ellipse cx="0" cy="0" rx="14" ry="14" fill="#2e9fe8"/><ellipse cx="-45" cy="23" rx="14" ry="14" fill="#80cfb8"/><ellipse cx="43" cy="22" rx="14" ry="14" fill="#80cfb8"/><ellipse cx="0" cy="49" rx="14" ry="14" fill="#80cfb8"/><ellipse cx="-88" cy="51" rx="14" ry="14" fill="#80cfb8"/><ellipse cx="-88" cy="103" rx="14" ry="14" fill="#80cfb8"/><ellipse cx="0" cy="103" rx="14" ry="14" fill="#80cfb8"/><ellipse cx="44" cy="92" rx="14" ry="14" fill="#2e9fe8"/><ellipse cx="-45" cy="132" rx="14" ry="14" fill="#80cfb8"/><ellipse cx="-88" cy="150" rx="14" ry="14" fill="#2e9fe8"/><ellipse cx="0" cy="172" rx="14" ry="14" fill="#2e9fe8"/><ellipse cx="69" cy="143" rx="14" ry="14" fill="#2e9fe8"/>
</g>
<text class="gt" x="0" y="6.5">N</text><text class="gt" x="-45" y="29.5">C</text><text class="gt" x="43" y="28.5">C</text><text class="gt" x="0" y="55.5">C</text><text class="gt" x="-88" y="57.5">C</text><text class="gt" x="-88" y="109.5">C</text><text class="gt" x="0" y="109.5">C</text><text class="gt" x="44" y="98.5">N</text><text class="gt" x="-45" y="138.5">C</text><text class="gt" x="-88" y="156.5">N</text><text class="gt" x="0" y="178.5">S</text><text class="gt" x="69" y="149.5">S</text>
</g>
<polygon class="arr" points="209,805.5 252,805.5 252,795 276,812 252,829 252,818 209,818" fill="url(#a14)"/>
<rect class="dash" x="35" y="918" width="216" height="189" rx="30"/>
<use href="#nn" transform="translate(62,939)"/>
<text class="bi" x="140" y="1135" textLength="185" lengthAdjust="spacingAndGlyphs">GatorAffinity</text>

<!-- connectors -->
<path class="thick" d="M434,741 H498" marker-end="url(#h)"/>
<path class="thick" d="M724,741 H778" marker-end="url(#h)"/>
<path class="thick" d="M926,745 H964 V849 H611 V866" marker-end="url(#h)"/>
<path class="thick" d="M434,810 H498" marker-end="url(#h)"/>
<path class="thick" d="M724,810 H778" marker-end="url(#h)"/>
<path class="thick" d="M926,810 H1151 V866" marker-end="url(#h)"/>
<path class="thick" d="M434,892 H498" marker-end="url(#h)"/>
<path class="thick" d="M724,892 H764" marker-end="url(#h)"/>
<path class="thick" d="M955,892 H1051.5" marker-end="url(#h)"/>
<path class="thick" d="M360,923 V1089 H437.5" marker-end="url(#h)"/>
<path class="thick" d="M360,986 H498" marker-end="url(#h)"/>
<path class="thick" d="M707,986 H764" marker-end="url(#h)"/>
<path class="thick" d="M849.5,955 V936 H611 V918" marker-end="url(#h)"/>
<path class="thick" d="M567,1089 H613.5" marker-end="url(#h)"/>
<path class="thick" d="M803.5,1089 H868.5" marker-end="url(#h)"/>
<path class="thick" d="M708,1059 V1037 H1011 V997 H1115.5" marker-end="url(#h)"/>
<path class="thick" d="M1076.5,1089 H1132.5" marker-end="url(#h)"/>
<path class="thick" d="M1228,1059 V1023" marker-end="url(#h)"/>
<path class="thick" d="M1251,892 H1316" marker-end="url(#h)"/>
<path class="thick" d="M1411,923 V946 H1228.5 V971" marker-end="url(#h)"/>
<path class="thick" d="M1341,997 H1403" marker-end="url(#h)"/>
<path class="thick" d="M1498,1028 V1076" marker-end="url(#h)"/>
<path class="thick" d="M1572,1102 H1634.5" marker-end="url(#h)"/>
<path class="thick" d="M1730,1071 V1035" marker-end="url(#h)"/>
<path class="thick" d="M1730,965 V928" marker-end="url(#h)"/>
<path class="thick" d="M1730,867 V841" marker-end="url(#h)"/>
<path class="thick" d="M1730,744 V771" marker-end="url(#h)"/>
<path class="thick" d="M465.5,810 V986"/>
<text x="1008" y="797" font-size="24" font-weight="700">Q</text>
<text x="990" y="883" font-size="24" font-weight="700" textLength="50" lengthAdjust="spacingAndGlyphs">K, V</text>

<!-- nodes -->
<rect class="box" x="286" y="714" width="148" height="53" rx="9" fill="url(#T)"/><text class="r" x="360" y="750">Atom Type</text>
<rect class="box" x="498" y="714" width="226" height="53" rx="9" fill="url(#N)"/><text class="r" x="611" y="750">ATOM Emd Layer</text>
<rect class="box" x="778" y="714" width="148" height="53" rx="9" fill="url(#T)"/><text class="r" x="852" y="750">ATOM Emd</text>
<rect class="box" x="286" y="784" width="148" height="52" rx="9" fill="url(#T)"/><text class="r" x="360" y="819">Block Type</text>
<rect class="box" x="498" y="784" width="226" height="52" rx="9" fill="url(#N)"/><text class="r" x="611" y="819">Block Emd Layer</text>
<rect class="box" x="778" y="784" width="148" height="52" rx="9" fill="url(#T)"/><text class="r" x="852" y="819">Block Emd</text>
<rect class="box" x="286" y="861" width="148" height="62" rx="9" fill="url(#T)"/><text class="r" x="360" y="885">Atom</text><text class="r" x="360" y="916">Coordinates</text>
<rect class="box" x="498" y="866" width="226" height="52" rx="9" fill="url(#N)"/><text class="r" x="610" y="900.5">SE(3)-GNN</text>
<rect class="box" x="764" y="861" width="191" height="62" rx="9" fill="url(#T)"/><text class="r" x="859.5" y="885">Atom Level</text><text class="r" x="859.5" y="916">Representation</text>
<rect class="box" x="498" y="942" width="209" height="88" rx="12" fill="url(#N)"/><text class="r" x="602" y="966">Construct Edges</text><text class="i" x="602" y="995">P<tspan>→</tspan>P, P<tspan>→</tspan>L</text><text class="i" x="602" y="1024">L<tspan>→</tspan>L</text>
<rect class="box" x="764" y="955" width="191" height="62" rx="9" fill="url(#T)"/><text class="r" x="859.5" y="979">Edges &amp; Edge</text><text class="r" x="859.5" y="1010">Features</text>
<rect class="box" x="437.5" y="1063" width="129.5" height="52" rx="9" fill="url(#N)"/><text class="r" x="502" y="1098">Mean</text>
<rect class="box" x="613.5" y="1059" width="190" height="61" rx="9" fill="url(#T)"/><text class="r" x="708.5" y="1083">Block</text><text class="r" x="708.5" y="1114">Coordinates</text>
<rect class="box" x="868.5" y="1046" width="208" height="87" rx="12" fill="url(#N)"/><text class="r" x="972" y="1070">Construct Edges</text><text class="i" x="972" y="1098">P<tspan>→</tspan>P, P<tspan>→</tspan>L</text><text class="i" x="972" y="1127">L<tspan>→</tspan>L</text>
<rect class="box" x="1132.5" y="1059" width="191.5" height="61" rx="9" fill="url(#T)"/><text class="r" x="1228" y="1083">Edges &amp; Edge</text><text class="r" x="1228" y="1114">Features</text>
<rect class="box" x="1115.5" y="971" width="225.5" height="52" rx="9" fill="url(#N)"/><text class="r" x="1228" y="1006">SE(3)-GNN</text>
<rect class="box" x="1403" y="967" width="191" height="61" rx="9" fill="url(#T)"/><text class="r" x="1498" y="991">Block Level</text><text class="r" x="1498" y="1022">Representation</text>
<rect class="box" x="1051.5" y="866" width="199.5" height="52" rx="9" fill="url(#N)"/><text class="r" x="1151" y="901">Cross-Attention</text>
<rect class="box" x="1316" y="861" width="191" height="62" rx="9" fill="url(#T)"/><text class="r" x="1411" y="901">Block Emd</text>
<rect class="box" x="1424.5" y="1076" width="147.5" height="52" rx="9" fill="url(#N)"/><text class="r" x="1498" y="1111">FFN</text>
<rect class="box" x="1634.5" y="1071" width="190.5" height="61" rx="9" fill="url(#T)"/><text class="r" x="1730" y="1111">Block Energies</text>
<rect class="box" x="1656" y="965" width="147.5" height="70" rx="9" fill="url(#N)"/><text class="r" x="1730" y="993">Block-Wise</text><text class="r" x="1730" y="1024">Summation</text>
<rect x="1634.5" y="867" width="190.5" height="61" rx="9" fill="url(#T)" stroke="#111" stroke-width="2.6" stroke-dasharray="8 5"/><text class="r" x="1730" y="906">Pred Affinity</text>
<rect class="box" x="1634.5" y="771" width="190.5" height="70" rx="9" fill="url(#G)"/><text class="r" x="1730" y="815">MSE Loss</text>
<rect class="box" x="1634.5" y="683" width="190.5" height="61" rx="9" fill="url(#T)"/><text class="r" x="1730" y="723">Affinity</text>

<!-- legend -->
<rect class="dash" x="1087" y="689" width="522" height="113" rx="20"/>
<rect class="box" x="1103" y="703" width="79" height="35" rx="6" fill="url(#T)"/>
<rect class="box" x="1103" y="752" width="79" height="35" rx="6" fill="url(#N)"/>
<text class="b" x="1193" y="728" style="text-anchor:start" textLength="317" lengthAdjust="spacingAndGlyphs">: Tensors and Parameters</text>
<text class="b" x="1193" y="775" style="text-anchor:start" textLength="394" lengthAdjust="spacingAndGlyphs">: Network Layers and Functions</text>
</svg>
</body></html>
